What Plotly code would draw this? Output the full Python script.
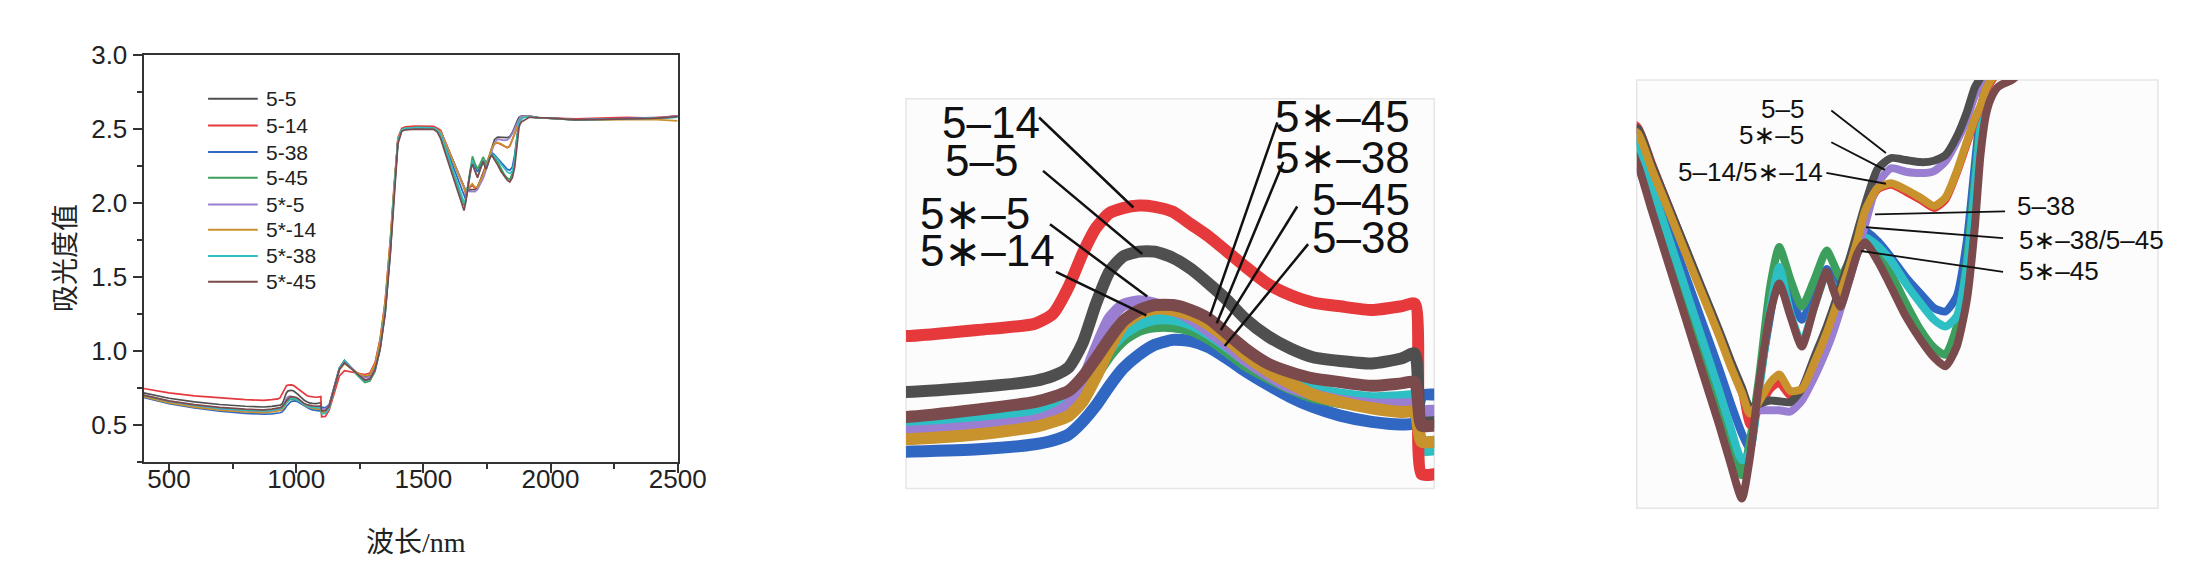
import plotly.graph_objects as go

W, H = 2204, 562

series_names = ["5-5", "5-14", "5-38", "5-45", "5*-5", "5*-14", "5*-38", "5*-45"]
series_colors = ["#4f4f4f", "#e5393c", "#2f67c3", "#3d9f5e", "#9a7ed1", "#c8922c", "#2ebfc4", "#7b4a4c"]

# wavelength grid (nm)
wl_vis = [400, 450, 500, 600, 700, 800, 850]
wl_p2 = [872, 904, 929, 937, 944, 950, 956, 962, 968, 975, 982, 990, 998, 1006, 1014,
         1022, 1032, 1042, 1052, 1064, 1078, 1091, 1097, 1100, 1106]
wl_mid = [1115, 1130, 1150, 1170, 1190, 1210, 1240, 1270, 1290, 1310, 1330, 1350, 1370,
          1385, 1400, 1415, 1430, 1470, 1510, 1540, 1555]
wl_p3 = [1568, 1580, 1595, 1610, 1625, 1640, 1650, 1660, 1667, 1675, 1685, 1693, 1703,
         1713, 1724, 1735, 1741, 1747, 1755, 1762, 1769, 1780, 1792, 1805, 1818, 1830,
         1840, 1850, 1859, 1866, 1871, 1876, 1880, 1886, 1892, 1898, 1905, 1915]
wl_end = [1950, 2000, 2100, 2200, 2300, 2400, 2450, 2500]
wavelength = wl_vis + wl_p2 + wl_mid + wl_p3 + wl_end

abs_5_5 = ([0.715, 0.695, 0.679, 0.655, 0.637, 0.625, 0.620]
           + [0.620, 0.624, 0.629, 0.633, 0.640, 0.659, 0.691, 0.717, 0.729, 0.733, 0.733, 0.728, 0.719,
              0.707, 0.694, 0.679, 0.665, 0.655, 0.648, 0.645, 0.643, 0.647, 0.651, 0.596, 0.596]
           + [0.598, 0.630, 0.760, 0.880, 0.915, 0.890, 0.850, 0.825, 0.835, 0.905, 1.060, 1.310, 1.720,
              2.100, 2.420, 2.490, 2.500, 2.505, 2.505, 2.503, 2.492]
           + [2.489, 2.438, 2.377, 2.316, 2.255, 2.194, 2.151, 2.111, 2.082, 2.087, 2.092, 2.091, 2.090,
              2.109, 2.155, 2.200, 2.228, 2.258, 2.298, 2.338, 2.378, 2.430, 2.446, 2.443, 2.440, 2.442,
              2.450, 2.477, 2.513, 2.549, 2.563, 2.580, 2.585, 2.590, 2.590, 2.590, 2.590, 2.590]
           + [2.578, 2.574, 2.565, 2.570, 2.572, 2.575, 2.580, 2.590])

abs_5_14 = ([0.745, 0.728, 0.715, 0.695, 0.680, 0.670, 0.666]
            + [0.665, 0.670, 0.675, 0.683, 0.705, 0.731, 0.752, 0.764, 0.768, 0.770, 0.769, 0.765, 0.755,
               0.745, 0.733, 0.721, 0.707, 0.698, 0.692, 0.689, 0.686, 0.689, 0.691, 0.554, 0.554]
            + [0.556, 0.600, 0.720, 0.830, 0.865, 0.860, 0.850, 0.840, 0.850, 0.920, 1.080, 1.340, 1.750,
               2.130, 2.440, 2.505, 2.515, 2.520, 2.520, 2.518, 2.505]
            + [2.491, 2.440, 2.377, 2.315, 2.252, 2.190, 2.145, 2.104, 2.056, 2.080, 2.109, 2.118, 2.099,
               2.106, 2.145, 2.188, 2.217, 2.246, 2.284, 2.323, 2.366, 2.400, 2.407, 2.397, 2.385, 2.373,
               2.385, 2.424, 2.467, 2.501, 2.520, 2.544, 2.556, 2.571, 2.580, 2.583, 2.585, 2.585]
            + [2.578, 2.574, 2.570, 2.575, 2.580, 2.575, 2.585, 2.590])

abs_5_38 = ([0.685, 0.661, 0.642, 0.613, 0.591, 0.577, 0.571]
            + [0.572, 0.574, 0.578, 0.581, 0.586, 0.596, 0.609, 0.625, 0.639, 0.650, 0.658, 0.662, 0.661,
               0.656, 0.647, 0.637, 0.626, 0.616, 0.608, 0.601, 0.596, 0.594, 0.595, 0.617, 0.618]
            + [0.615, 0.635, 0.760, 0.885, 0.935, 0.900, 0.845, 0.800, 0.810, 0.875, 1.030, 1.280, 1.690,
               2.090, 2.425, 2.495, 2.505, 2.510, 2.510, 2.508, 2.492]
            + [2.472, 2.415, 2.345, 2.276, 2.207, 2.138, 2.089, 2.044, 2.022, 2.114, 2.215, 2.282, 2.244,
               2.210, 2.248, 2.284, 2.268, 2.251, 2.282, 2.316, 2.340, 2.325, 2.301, 2.272, 2.248, 2.227,
               2.222, 2.244, 2.325, 2.436, 2.513, 2.551, 2.563, 2.573, 2.578, 2.580, 2.583, 2.583]
            + [2.578, 2.574, 2.563, 2.567, 2.570, 2.574, 2.578, 2.585])

abs_5_45 = ([0.695, 0.672, 0.654, 0.628, 0.607, 0.596, 0.592]
            + [0.593, 0.596, 0.600, 0.604, 0.609, 0.620, 0.634, 0.650, 0.662, 0.670, 0.673, 0.673, 0.670,
               0.663, 0.653, 0.642, 0.632, 0.623, 0.616, 0.612, 0.609, 0.610, 0.611, 0.580, 0.580]
            + [0.582, 0.615, 0.750, 0.882, 0.935, 0.895, 0.835, 0.785, 0.795, 0.860, 1.010, 1.260, 1.670,
               2.070, 2.415, 2.495, 2.505, 2.510, 2.510, 2.508, 2.488]
            + [2.462, 2.398, 2.321, 2.244, 2.166, 2.088, 2.033, 1.983, 2.032, 2.123, 2.258, 2.316, 2.268,
               2.229, 2.268, 2.311, 2.292, 2.272, 2.296, 2.318, 2.328, 2.311, 2.277, 2.234, 2.195, 2.169,
               2.159, 2.200, 2.296, 2.412, 2.498, 2.547, 2.561, 2.573, 2.578, 2.580, 2.583, 2.583]
            + [2.578, 2.574, 2.562, 2.565, 2.568, 2.570, 2.575, 2.580])

abs_5s_5 = ([0.695, 0.672, 0.653, 0.625, 0.604, 0.592, 0.587]
            + [0.588, 0.592, 0.597, 0.602, 0.610, 0.628, 0.655, 0.679, 0.690, 0.693, 0.691, 0.686, 0.679,
               0.669, 0.658, 0.646, 0.634, 0.624, 0.618, 0.613, 0.610, 0.610, 0.610, 0.605, 0.605]
            + [0.605, 0.630, 0.755, 0.880, 0.925, 0.895, 0.850, 0.815, 0.825, 0.880, 1.020, 1.260, 1.660,
               2.060, 2.410, 2.490, 2.500, 2.505, 2.505, 2.503, 2.494]
            + [2.485, 2.435, 2.374, 2.313, 2.252, 2.191, 2.147, 2.109, 2.080, 2.078, 2.078, 2.078, 2.076,
               2.092, 2.126, 2.167, 2.193, 2.224, 2.268, 2.306, 2.349, 2.409, 2.431, 2.426, 2.424, 2.427,
               2.441, 2.470, 2.503, 2.537, 2.554, 2.573, 2.580, 2.587, 2.587, 2.587, 2.587, 2.587]
            + [2.578, 2.574, 2.563, 2.567, 2.570, 2.575, 2.580, 2.588])

abs_5s_14 = ([0.690, 0.666, 0.647, 0.619, 0.598, 0.586, 0.581]
             + [0.582, 0.586, 0.592, 0.596, 0.601, 0.612, 0.632, 0.655, 0.674, 0.683, 0.687, 0.686, 0.682,
                0.674, 0.663, 0.650, 0.637, 0.627, 0.618, 0.612, 0.607, 0.604, 0.604, 0.580, 0.580]
             + [0.582, 0.615, 0.745, 0.870, 0.915, 0.890, 0.850, 0.830, 0.840, 0.910, 1.070, 1.330, 1.740,
                2.120, 2.430, 2.495, 2.505, 2.510, 2.510, 2.508, 2.495]
             + [2.482, 2.431, 2.370, 2.308, 2.247, 2.186, 2.142, 2.103, 2.073, 2.090, 2.118, 2.130, 2.106,
                2.109, 2.147, 2.191, 2.219, 2.248, 2.287, 2.325, 2.369, 2.402, 2.409, 2.400, 2.388, 2.376,
                2.388, 2.426, 2.470, 2.503, 2.522, 2.547, 2.559, 2.573, 2.580, 2.583, 2.585, 2.585]
             + [2.578, 2.574, 2.560, 2.562, 2.565, 2.565, 2.560, 2.555])

abs_5s_38 = ([0.700, 0.677, 0.659, 0.632, 0.611, 0.599, 0.593]
             + [0.594, 0.597, 0.604, 0.608, 0.613, 0.624, 0.640, 0.655, 0.667, 0.675, 0.679, 0.679, 0.675,
                0.667, 0.657, 0.646, 0.636, 0.628, 0.622, 0.618, 0.615, 0.616, 0.616, 0.574, 0.574]
             + [0.576, 0.612, 0.748, 0.880, 0.930, 0.895, 0.840, 0.795, 0.805, 0.870, 1.020, 1.270, 1.680,
                2.080, 2.420, 2.495, 2.505, 2.510, 2.510, 2.508, 2.490]
             + [2.467, 2.406, 2.331, 2.256, 2.181, 2.106, 2.053, 2.005, 2.017, 2.104, 2.224, 2.287, 2.219,
                2.176, 2.229, 2.277, 2.258, 2.239, 2.282, 2.311, 2.330, 2.318, 2.296, 2.263, 2.234, 2.210,
                2.200, 2.215, 2.287, 2.402, 2.489, 2.542, 2.559, 2.571, 2.578, 2.580, 2.583, 2.583]
             + [2.578, 2.574, 2.560, 2.563, 2.566, 2.572, 2.575, 2.580])

abs_5s_45 = ([0.700, 0.678, 0.661, 0.636, 0.617, 0.605, 0.600]
             + [0.600, 0.606, 0.612, 0.616, 0.621, 0.632, 0.647, 0.663, 0.677, 0.686, 0.690, 0.690, 0.686,
                0.679, 0.667, 0.655, 0.643, 0.636, 0.631, 0.628, 0.625, 0.627, 0.628, 0.593, 0.593]
             + [0.595, 0.625, 0.750, 0.875, 0.920, 0.890, 0.840, 0.800, 0.810, 0.870, 1.010, 1.250, 1.650,
                2.050, 2.400, 2.485, 2.495, 2.500, 2.500, 2.498, 2.480]
             + [2.436, 2.371, 2.292, 2.213, 2.134, 2.056, 2.000, 1.949, 2.008, 2.114, 2.219, 2.263, 2.215,
                2.171, 2.229, 2.280, 2.253, 2.229, 2.268, 2.306, 2.323, 2.296, 2.258, 2.215, 2.181, 2.155,
                2.142, 2.171, 2.239, 2.345, 2.450, 2.510, 2.532, 2.549, 2.555, 2.559, 2.568, 2.580]
             + [2.578, 2.574, 2.562, 2.565, 2.570, 2.572, 2.578, 2.585])

series_values = [abs_5_5, abs_5_14, abs_5_38, abs_5_45, abs_5s_5, abs_5s_14, abs_5s_38, abs_5s_45]

# drawing order used in the two magnified panels (last = on top)
zoom_order = ["5-38", "5-45", "5*-38", "5-14", "5*-5", "5-5", "5*-14", "5*-45"]

# callout labels of the magnified panels
p2_left_labels = ["5–14", "5–5", "5∗–5", "5∗–14"]
p2_right_labels = ["5∗–45", "5∗–38", "5–45", "5–38"]
p3_left_labels = ["5–5", "5∗–5", "5–14/5∗–14"]
p3_right_labels = ["5–38", "5∗–38/5–45", "5∗–45"]

AX_COLOR = "#333333"
SANS = "Liberation Sans, Arial, DejaVu Sans, sans-serif"

# page-to-photo calibration of the viewer (measured): photo = scale * page + offset
SX, OX = 0.994, -1.6
SY, OY = 0.984, 8.4


def px(x):
    """target photo x (pixels) -> paper fraction"""
    return ((x - OX) / SX) / W


def py(y):
    """target photo y (pixels, from top) -> paper fraction"""
    return 1 - ((y - OY) / SY) / H


fig = go.Figure()

# panel 1: full spectra
for name, col, vals in zip(series_names, series_colors, series_values):
    fig.add_trace(go.Scatter(x=wavelength, y=vals, mode="lines", name=name, showlegend=False,
                             line=dict(color=col, width=1.7), xaxis="x", yaxis="y"))

lookup = dict(zip(series_names, zip(series_colors, series_values)))
# panel 2 and panel 3: magnified views of the same spectra
for axn, lw in (("2", 12), ("3", 8)):
    for name in zoom_order:
        col, vals = lookup[name]
        fig.add_trace(go.Scatter(x=wavelength, y=vals, mode="lines", showlegend=False,
                                 line=dict(color=col, width=lw, shape="spline", smoothing=0.6),
                                 xaxis="x" + axn, yaxis="y" + axn, hoverinfo="skip"))

tickfont = dict(family=SANS, size=26, color="#222222")
fig.update_layout(
    width=W, height=H, autosize=False,
    margin=dict(l=0, r=0, t=0, b=0),
    paper_bgcolor="white", plot_bgcolor="rgba(0,0,0,0)",
    showlegend=False,
    xaxis=dict(domain=[px(143), px(681)], range=[400, 2500], tick0=500, dtick=500,
               ticks="outside", ticklen=9, tickwidth=2, tickcolor=AX_COLOR, ticklabelstandoff=-16,
               minor=dict(dtick=250, ticks="outside", ticklen=5, tickwidth=1.5, tickcolor=AX_COLOR),
               showline=True, linecolor=AX_COLOR, linewidth=2, mirror=True,
               showgrid=False, zeroline=False, tickfont=tickfont, anchor="y"),
    yaxis=dict(domain=[py(460), py(49)], range=[0.25, 3.0], tick0=0.5, dtick=0.5, tickformat=".1f",
               ticks="outside", ticklen=9, tickwidth=2, tickcolor=AX_COLOR,
               minor=dict(dtick=0.25, ticks="outside", ticklen=5, tickwidth=1.5, tickcolor=AX_COLOR),
               showline=True, linecolor=AX_COLOR, linewidth=2, mirror=True,
               showgrid=False, zeroline=False, tickfont=tickfont, anchor="x"),
    xaxis2=dict(domain=[px(911), px(1443)], range=[872, 1105.6], visible=False, anchor="y2"),
    yaxis2=dict(domain=[py(487), py(93)], range=[0.5425, 0.856], visible=False, anchor="x2"),
    xaxis3=dict(domain=[px(1647), px(2172)], range=[1567, 2028], visible=False, anchor="y3"),
    yaxis3=dict(domain=[py(507), py(74)], range=[1.935, 2.56], visible=False, anchor="x3"),
)

shapes = []
# faint frames of the magnified panels
for x0, y0, x1, y1 in ((911, 93, 1443, 487), (1647, 74, 2172, 507)):
    shapes.append(dict(type="rect", xref="paper", yref="paper", x0=px(x0), x1=px(x1),
                       y0=py(y1), y1=py(y0), line=dict(color="#e6e6e6", width=1.5),
                       fillcolor="#fcfcfc", layer="below"))

annotations = [
    dict(text="吸光度值", x=px(63), y=py(254), xref="paper", yref="paper", showarrow=False,
         xanchor="center", yanchor="middle", textangle=-90,
         font=dict(family="Noto Sans CJK SC, sans-serif", size=27, color="#222222")),
    dict(text="波长/nm", x=px(417), y=py(542), xref="paper", yref="paper", showarrow=False,
         xanchor="center", yanchor="middle",
         font=dict(family="Liberation Serif, Noto Sans CJK SC, serif", size=28, color="#222222")),
]

# legend of panel 1 (line sample + label)
leg_x0, leg_x1, leg_tx = 208, 258, 264
leg_rows = [93, 120, 147, 173, 200, 225.5, 252, 278]
for name, col, yy in zip(series_names, series_colors, leg_rows):
    shapes.append(dict(type="line", xref="paper", yref="paper", x0=px(leg_x0), x1=px(leg_x1),
                       y0=py(yy), y1=py(yy), line=dict(color=col, width=2)))
    annotations.append(dict(text=name, x=px(leg_tx), y=py(yy), xref="paper", yref="paper",
                            showarrow=False, xanchor="left", yanchor="middle",
                            font=dict(family=SANS, size=21, color="#222222")))

# panel 2 callouts
p2_left_pos = [(945, 117), (948, 156), (923, 209), (923, 246)]
p2_right_pos = [(1421, 111), (1421, 152), (1421, 195), (1421, 233)]
p2_lines = [((1045, 112), (1140, 203)), ((1049, 166), (1149, 250)), ((1056, 220), (1154, 293)),
            ((1062, 268), (1153, 312)), ((1285, 117), (1217, 313)), ((1291, 157), (1224, 320)),
            ((1305, 202), (1228, 327)), ((1316, 240), (1232, 343))]
for txt, (x, y) in zip(p2_left_labels, p2_left_pos):
    annotations.append(dict(text=txt, x=px(x), y=py(y), xref="paper", yref="paper", showarrow=False,
                            xanchor="left", yanchor="middle", font=dict(family=SANS, size=44, color="#111111")))
for txt, (x, y) in zip(p2_right_labels, p2_right_pos):
    annotations.append(dict(text=txt, x=px(x), y=py(y), xref="paper", yref="paper", showarrow=False,
                            xanchor="right", yanchor="middle", font=dict(family=SANS, size=44, color="#111111")))
for (a, b) in p2_lines:
    shapes.append(dict(type="line", xref="paper", yref="paper", x0=px(a[0]), y0=py(a[1]),
                       x1=px(b[0]), y1=py(b[1]), line=dict(color="#111111", width=2.5)))

# panel 3 callouts
p3_left_pos = [(1818, 103), (1818, 130), (1837, 167)]
p3_right_pos = [(2028, 202), (2030, 236), (2030, 267)]
p3_lines = [((1843, 105), (1898, 148)), ((1843, 137), (1897, 165)), ((1838, 168), (1898, 179)),
            ((1887, 210), (2018, 207)), ((1878, 223), (2016, 234)), ((1873, 247), (2016, 268))]
for txt, (x, y) in zip(p3_left_labels, p3_left_pos):
    annotations.append(dict(text=txt, x=px(x), y=py(y), xref="paper", yref="paper", showarrow=False,
                            xanchor="right", yanchor="middle", font=dict(family=SANS, size=26, color="#111111")))
for txt, (x, y) in zip(p3_right_labels, p3_right_pos):
    annotations.append(dict(text=txt, x=px(x), y=py(y), xref="paper", yref="paper", showarrow=False,
                            xanchor="left", yanchor="middle", font=dict(family=SANS, size=26, color="#111111")))
for (a, b) in p3_lines:
    shapes.append(dict(type="line", xref="paper", yref="paper", x0=px(a[0]), y0=py(a[1]),
                       x1=px(b[0]), y1=py(b[1]), line=dict(color="#111111", width=1.8)))

fig.update_layout(shapes=shapes, annotations=annotations)

fig.write_html("out.html", config={"displayModeBar": False, "responsive": False},
               post_script="document.body.style.margin='0';document.body.style.overflow='hidden';")
